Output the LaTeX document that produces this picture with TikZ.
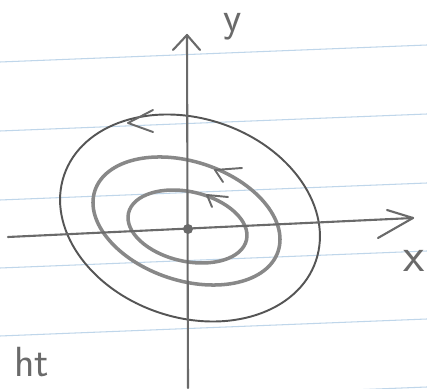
\documentclass[tikz,border=0pt]{standalone}
\usepackage{tikz}
\usetikzlibrary{positioning,calc}
\definecolor{paper}{HTML}{FFFFFF}
\definecolor{rule}{HTML}{BFD6EA}
\definecolor{pencil}{HTML}{6A6A6A}
\definecolor{pencildark}{HTML}{555555}
\definecolor{pencillight}{HTML}{888888}
\tikzset{
  ruleline/.style={draw=rule,line width=0.6pt},
  axisline/.style={draw=pencil,line width=1.2pt,line cap=round,line join=round},
  orbitouter/.style={draw=pencildark,line width=1.1pt},
  orbitinner/.style={draw=pencillight,line width=2.0pt},
  flowtip/.style={draw=pencil,line width=1.1pt,line cap=round,line join=round},
  handlabel/.style={text=pencil,inner sep=0pt,font=\sffamily}
}

\begin{document}
\begin{tikzpicture}[x=0.02cm,y=0.02cm]
  \clip (0,0) rectangle (427,389);
  \fill[paper] (0,0) rectangle (427,389);
  % notebook rules
  \foreach \h in {-15,53,121,189,258,327}
    \draw[ruleline] (0,\h) -- (427,\h+17);

  % orbits
  \draw[orbitouter] (190,171) ellipse [x radius=133,y radius=99.5,rotate=-18.8];
  \draw[orbitinner] (186.5,168) ellipse [x radius=96.5,y radius=59.4,rotate=-18.3];
  \draw[orbitinner] (187.5,162.5) ellipse [x radius=60.5,y radius=34.8,rotate=-12.8];

  % axes
  \coordinate (xl) at (8,152);
  \coordinate (xr) at (413,171);
  \coordinate (yb) at (188,1);
  \coordinate (yt) at (187,354);
  \coordinate (O) at (188,160);
  \draw[axisline] (xl) -- (xr);
  \draw[axisline] (yb) -- (yt);
  \draw[axisline] (387,179) -- (xr) -- (378,151);
  \draw[axisline] (173,339) -- (yt) -- (200,339);
  \fill[pencil] (O) circle (5);

  % direction marks
  \draw[flowtip] (153,279) -- (128,266) -- (153,257);
  \draw[flowtip] (242,221) -- (215,219) -- (223,207);
  \draw[flowtip] (228,192) -- (207,194) -- (212,182);

  % labels
  \node[handlabel,font=\sffamily\fontsize{24}{24}\selectfont] (ylab) at (233,362) {y};
  \node[handlabel,font=\sffamily\fontsize{28}{28}\selectfont,anchor=east] (xlab) at (425,128) {x};
  \node[handlabel,font=\sffamily\fontsize{24}{24}\selectfont,anchor=base west] (note) at (14,12) {ht};
\end{tikzpicture}
\end{document}
